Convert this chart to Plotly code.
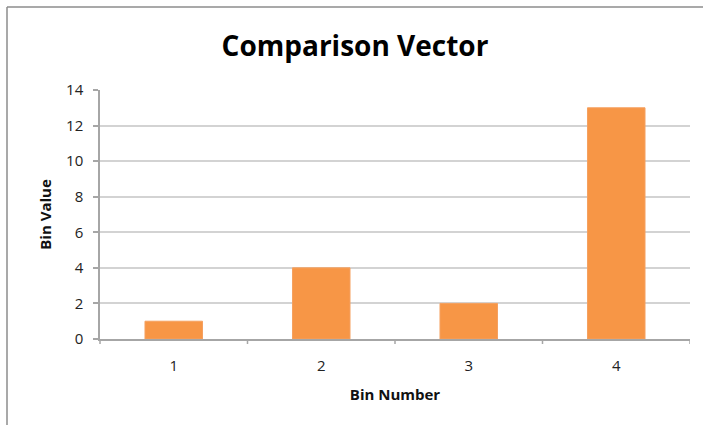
import plotly.graph_objects as go

categories = ["1", "2", "3", "4"]
values = [1, 4, 2, 13]
y_ticks = [0, 2, 4, 6, 8, 10, 12, 14]

W, H = 703, 425
L, R, T, B = 100, 13, 90, 86
pw, ph = W - L - R, H - T - B

def px_x(p):
    return (p - L) / pw

def px_y(p):
    return (H - B - p) / ph

FONT = "Open Sans, Liberation Sans, sans-serif"
AX = "#A6A6A6"

fig = go.Figure(go.Bar(
    x=categories, y=values,
    marker=dict(color="#F79646", line=dict(color="#F5A060", width=1)),
    width=0.39,
))

fig.update_layout(
    width=W, height=H,
    margin=dict(l=L, r=R, t=T, b=B, autoexpand=False),
    paper_bgcolor="white", plot_bgcolor="white",
    showlegend=False,
    title=dict(text="<b>Comparison Vector</b>", x=0.505, xanchor="center",
               y=1 - 46 / H, yanchor="middle",
               font=dict(family=FONT, size=28, color="black")),
    font=dict(family=FONT, size=14, color="#222"),
)

fig.update_xaxes(
    type="category", range=[-0.5, 3.5], automargin=False,
    showline=True, linecolor=AX, linewidth=1.5,
    ticks="", showgrid=False, ticklabelstandoff=12,
    tickfont=dict(size=15, color="#222"),
    title=dict(text="<b>Bin Number</b>", font=dict(size=15, color="#111"), standoff=16),
)
fig.update_yaxes(
    range=[0, 14], tickvals=y_ticks, automargin=False,
    showline=True, linecolor=AX, linewidth=1.5,
    ticks="outside", ticklen=5, tickcolor=AX, tickwidth=1.5,
    ticklabelstandoff=7,
    showgrid=True, gridcolor="#D3D3D3", gridwidth=1.5,
    zeroline=False,
    tickfont=dict(size=15, color="#222"),
    title=dict(text="<b>Bin Value</b>", font=dict(size=15, color="#111"), standoff=11),
)

shapes = []
for b in [0.5, 1.5, 2.5, 3.5]:
    shapes.append(dict(type="line", xref="x", yref="paper", x0=b, x1=b,
                       y0=0, y1=-5 / ph, line=dict(color=AX, width=1.5)))
shapes.append(dict(type="line", xref="paper", yref="paper", x0=0, x1=0,
                   y0=0, y1=-5 / ph, line=dict(color=AX, width=1.5)))
# outer chart frame (left and top)
shapes.append(dict(type="line", xref="paper", yref="paper",
                   x0=px_x(7), x1=px_x(7), y0=px_y(7), y1=px_y(440),
                   line=dict(color="#8C8C8C", width=1.5)))
shapes.append(dict(type="line", xref="paper", yref="paper",
                   x0=px_x(7), x1=px_x(720), y0=px_y(7), y1=px_y(7),
                   line=dict(color="#8C8C8C", width=1.5)))
fig.update_layout(shapes=shapes)

fig.write_html(
    "out.html",
    config={"displayModeBar": False},
    post_script="document.body.style.margin='0';document.body.style.overflow='hidden';",
)
